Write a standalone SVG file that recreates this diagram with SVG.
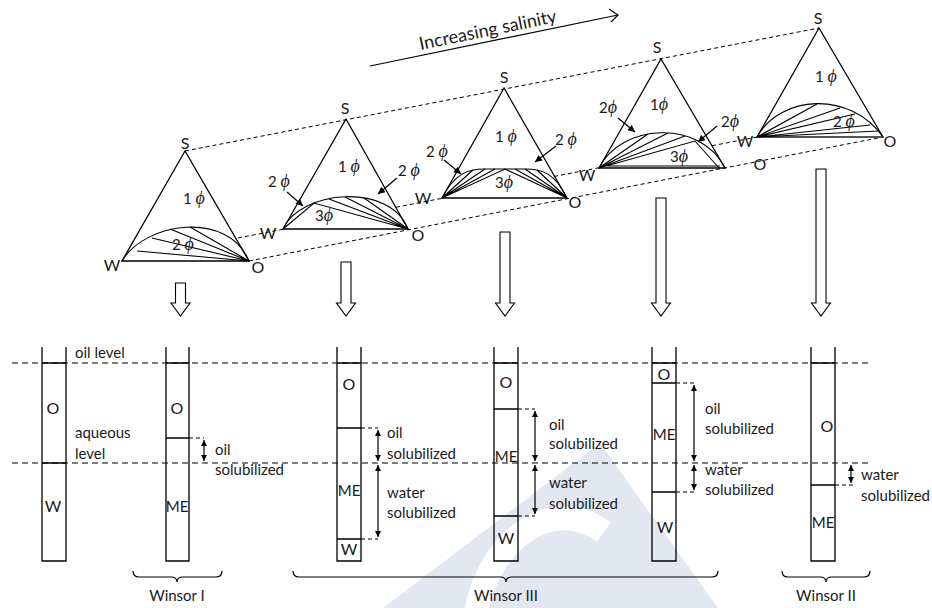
<svg xmlns="http://www.w3.org/2000/svg" width="932" height="608" viewBox="0 0 932 608">
<defs>
<style>
.ln{stroke:#000;stroke-width:1.2;fill:none}
.tri{fill:#fff;stroke:#000;stroke-width:1.3}
.dome{fill:none;stroke:#000;stroke-width:1.1}
.dt{stroke:#000;stroke-width:1;stroke-dasharray:4 3;fill:none}
.dl{stroke:#000;stroke-width:1.1;stroke-dasharray:6 4;fill:none}
.tube{fill:none;stroke:#000;stroke-width:1.3}
.hol{fill:#fff;stroke:#000;stroke-width:1.1}
.t{font-family:Lato,"Liberation Sans",sans-serif;font-size:15px;fill:#1a1a1a}
.v{font-size:16px}
.c{text-anchor:middle}
.phi{font-family:"Liberation Serif","DejaVu Serif",serif;font-style:italic;font-size:18px}
</style>
<marker id="ah" viewBox="0 0 10 10" refX="10" refY="5" markerUnits="userSpaceOnUse" markerWidth="7" markerHeight="6" orient="auto-start-reverse">
<path d="M0,0 L10,5 L0,10 z" fill="#000"/>
</marker>
<marker id="ap" viewBox="0 0 10 10" refX="10" refY="5" markerUnits="userSpaceOnUse" markerWidth="8" markerHeight="7" orient="auto">
<path d="M0,0 L10,5 L0,10 z" fill="#000"/>
</marker>
</defs>
<rect width="932" height="608" fill="#fff"/>

<g id="watermark">
<polygon points="383,608 600,443 718,608" fill="#e2e7f1"/>
<path d="M476,612 C488,545 548,492 604,532" fill="none" stroke="#fff" stroke-width="24"/>
</g>

<g id="salinity">
<line class="ln" x1="370" y1="66" x2="618" y2="15"/>
<polyline class="ln" points="609,9 618,15 611,22"/>
<text class="t" transform="translate(489,36) rotate(-11.6)" text-anchor="middle" style="font-size:18px">Increasing salinity</text>
</g>

<g id="connectors">
<line class="dt" x1="185" y1="151" x2="819" y2="28"/>
<line class="dt" x1="238" y1="238" x2="757" y2="137"/>
<line class="dt" x1="249" y1="261" x2="883" y2="137"/>
<line class="dl" x1="12" y1="363" x2="872" y2="363"/>
<line class="dl" x1="12" y1="463" x2="872" y2="463"/>
</g>

<g id="triangle1">
<polygon class="tri" points="185,151 122,261 249,261"/>
<path class="dome" d="M122,261 C145,222 228,210 249,261"/>
<path class="dome" d="M249,261 L137,251 M249,261 L152,238 M249,261 L170,229 M249,261 L190,227"/>
<text class="t v c" x="185" y="149">S</text>
<text class="t v c" x="112" y="271">W</text>
<text class="t v c" x="258" y="273">O</text>
<text class="t" x="183" y="204">1 <tspan class="phi">ϕ</tspan></text>
<text class="t" x="172" y="250">2 <tspan class="phi">ϕ</tspan></text>
</g>

<g id="triangle2">
<polygon class="tri" points="346,119 283,229 408,229"/>
<path class="dome" d="M283,229 C300,190 390,182 408,229"/>
<path class="dome" d="M283,229 L314,203 L408,229 M408,229 L329,199 M408,229 L345,197 M408,229 L364,198"/>
<text class="t v c" x="345" y="114">S</text>
<text class="t v c" x="268" y="239">W</text>
<text class="t v c" x="418" y="241">O</text>
<text class="t" x="338" y="172">1 <tspan class="phi">ϕ</tspan></text>
<text class="t" x="268" y="187">2 <tspan class="phi">ϕ</tspan></text>
<text class="t" x="398" y="176">2 <tspan class="phi">ϕ</tspan></text>
<text class="t" x="315" y="221">3<tspan class="phi">ϕ</tspan></text>
<line class="ln" x1="287" y1="192" x2="303" y2="206" marker-end="url(#ap)"/>
<line class="ln" x1="397" y1="178" x2="378" y2="194" marker-end="url(#ap)"/>
</g>

<g id="triangle3">
<polygon class="tri" points="504,88 442,198 567,198"/>
<path class="dome" d="M442,198 C455,173 468,169 485,169 L525,169 C542,169 555,173 567,198"/>
<path class="dome" d="M442,198 L505,169 L567,198 M442,198 L473,170 M442,198 L485,169 M442,198 L495,169 M567,198 L537,170 M567,198 L525,169 M567,198 L515,169"/>
<text class="t v c" x="504" y="83">S</text>
<text class="t v c" x="423" y="204">W</text>
<text class="t v c" x="575" y="208">O</text>
<text class="t" x="495" y="142">1 <tspan class="phi">ϕ</tspan></text>
<text class="t" x="426" y="157">2 <tspan class="phi">ϕ</tspan></text>
<text class="t" x="555" y="145">2 <tspan class="phi">ϕ</tspan></text>
<text class="t" x="495" y="188">3<tspan class="phi">ϕ</tspan></text>
<line class="ln" x1="444" y1="160" x2="461" y2="174" marker-end="url(#ap)"/>
<line class="ln" x1="556" y1="146" x2="535" y2="162" marker-end="url(#ap)"/>
</g>

<g id="triangle4">
<polygon class="tri" points="661,59 599,168 725,168"/>
<path class="dome" d="M599,168 C620,124 700,118 725,168"/>
<path class="dome" d="M599,168 L695,141 L719,168 M601,166 L720,166 M599,168 L648,134 M599,168 L668,133 M599,168 L685,136"/>
<text class="t v c" x="657" y="53">S</text>
<text class="t v c" x="587" y="181">W</text>
<text class="t v c" x="760" y="170">O</text>
<text class="t" x="650" y="110">1<tspan class="phi">ϕ</tspan></text>
<text class="t" x="599" y="113">2<tspan class="phi">ϕ</tspan></text>
<text class="t" x="721" y="127">2<tspan class="phi">ϕ</tspan></text>
<text class="t" x="670" y="162">3<tspan class="phi">ϕ</tspan></text>
<line class="ln" x1="618" y1="118" x2="635" y2="132" marker-end="url(#ap)"/>
<line class="ln" x1="717" y1="126" x2="698" y2="142" marker-end="url(#ap)"/>
</g>

<g id="triangle5">
<polygon class="tri" points="819,28 757,137 883,137"/>
<line x1="757" y1="137" x2="883" y2="137" stroke="#555" stroke-width="2.2"/>
<path class="dome" d="M757,137 C780,95 850,90 883,137"/>
<path class="dome" d="M757,137 L817,104 M757,137 L840,108 M757,137 L855,114 M757,137 L870,125 M757,137 L878,131"/>
<text class="t v c" x="818" y="24">S</text>
<text class="t v c" x="745" y="147">W</text>
<text class="t v c" x="890" y="147">O</text>
<text class="t" x="815" y="82">1 <tspan class="phi">ϕ</tspan></text>
<text class="t" x="833" y="127">2 <tspan class="phi">ϕ</tspan></text>
</g>

<g id="down-arrows">
<path class="hol" d="M175.5,283 L185.5,283 L185.5,303 L190,303 L180.5,316 L171,303 L175.5,303 Z"/>
<path class="hol" d="M341,262 L351,262 L351,303 L355.5,303 L346,316 L336.5,303 L341,303 Z"/>
<path class="hol" d="M500,232 L510,232 L510,303 L514.5,303 L505,316 L495.5,303 L500,303 Z"/>
<path class="hol" d="M656,198 L666,198 L666,303 L670.5,303 L661,316 L651.5,303 L656,303 Z"/>
<path class="hol" d="M816,169 L826,169 L826,303 L830.5,303 L821,316 L811.5,303 L816,303 Z"/>
</g>

<g id="tube1">
<path class="tube" d="M42,347 L42,561 L66,561 L66,347 M42,363 L66,363 M42,463 L66,463"/>
<text class="t v c" x="53" y="414">O</text>
<text class="t v c" x="53" y="512">W</text>
<text class="t" x="75" y="358">oil level</text>
<text class="t" x="75" y="438">aqueous</text>
<text class="t" x="75" y="459">level</text>
</g>

<g id="tube2">
<path class="tube" d="M166,347 L166,561 L189,561 L189,347 M166,363 L189,363 M166,438 L189,438"/>
<line class="dt" x1="189" y1="438" x2="204" y2="438"/>
<line class="ln" x1="204" y1="440" x2="204" y2="461" marker-start="url(#ah)" marker-end="url(#ah)"/>
<text class="t v c" x="177" y="414">O</text>
<text class="t c" x="177" y="512">ME</text>
<text class="t" x="215" y="455">oil</text>
<text class="t" x="215" y="475">solubilized</text>
</g>

<g id="tube3">
<path class="tube" d="M337,347 L337,561 L361,561 L361,347 M337,363 L361,363 M337,428 L361,428 M337,539 L361,539"/>
<line class="dt" x1="361" y1="428" x2="378" y2="428"/>
<line class="dt" x1="361" y1="539" x2="378" y2="539"/>
<line class="ln" x1="378" y1="430" x2="378" y2="461" marker-start="url(#ah)" marker-end="url(#ah)"/>
<line class="ln" x1="378" y1="465" x2="378" y2="537" marker-start="url(#ah)" marker-end="url(#ah)"/>
<text class="t v c" x="349" y="390">O</text>
<text class="t c" x="349" y="496">ME</text>
<text class="t v c" x="349" y="555">W</text>
<text class="t" x="387" y="438">oil</text>
<text class="t" x="387" y="459">solubilized</text>
<text class="t" x="387" y="498">water</text>
<text class="t" x="387" y="518">solubilized</text>
</g>

<g id="tube4">
<path class="tube" d="M494,347 L494,561 L518,561 L518,347 M494,363 L518,363 M494,409 L518,409 M494,516 L518,516"/>
<line class="dt" x1="518" y1="409" x2="535" y2="409"/>
<line class="dt" x1="518" y1="516" x2="535" y2="516"/>
<line class="ln" x1="535" y1="411" x2="535" y2="461" marker-start="url(#ah)" marker-end="url(#ah)"/>
<line class="ln" x1="535" y1="465" x2="535" y2="514" marker-start="url(#ah)" marker-end="url(#ah)"/>
<text class="t v c" x="506" y="388">O</text>
<text class="t c" x="506" y="462">ME</text>
<text class="t v c" x="506" y="544">W</text>
<text class="t" x="549" y="430">oil</text>
<text class="t" x="549" y="449">solubilized</text>
<text class="t" x="549" y="488">water</text>
<text class="t" x="549" y="509">solubilized</text>
</g>

<g id="tube5">
<path class="tube" d="M652,347 L652,561 L676,561 L676,347 M652,363 L676,363 M652,383 L676,383 M652,492 L676,492"/>
<line class="dt" x1="676" y1="383" x2="694" y2="383"/>
<line class="dt" x1="676" y1="492" x2="694" y2="492"/>
<line class="ln" x1="694" y1="385" x2="694" y2="461" marker-start="url(#ah)" marker-end="url(#ah)"/>
<line class="ln" x1="694" y1="465" x2="694" y2="490" marker-start="url(#ah)" marker-end="url(#ah)"/>
<text class="t v c" x="664" y="380">O</text>
<text class="t c" x="664" y="440">ME</text>
<text class="t v c" x="665" y="533">W</text>
<text class="t" x="705" y="414">oil</text>
<text class="t" x="705" y="434">solubilized</text>
<text class="t" x="705" y="475">water</text>
<text class="t" x="705" y="495">solubilized</text>
</g>

<g id="tube6">
<path class="tube" d="M811,347 L811,561 L835,561 L835,347 M811,363 L835,363 M811,485 L835,485"/>
<line class="dt" x1="835" y1="485" x2="853" y2="485"/>
<line class="ln" x1="851" y1="465" x2="851" y2="483" marker-start="url(#ah)" marker-end="url(#ah)"/>
<text class="t v c" x="827" y="432">O</text>
<text class="t c" x="823" y="528">ME</text>
<text class="t" x="861" y="480">water</text>
<text class="t" x="861" y="501">solubilized</text>
</g>

<g id="winsor1">
<path class="ln" d="M133,571 Q133,577 139,577 L171,577 Q177,577 177,582 Q177,577 183,577 L216,577 Q222,577 222,571"/>
<text class="t c" x="177" y="601">Winsor I</text>
</g>
<g id="winsor3">
<path class="ln" d="M293,571 Q293,577 299,577 L500,577 Q506,577 506,582 Q506,577 512,577 L712,577 Q718,577 718,571"/>
<text class="t c" x="506" y="601">Winsor III</text>
</g>
<g id="winsor2">
<path class="ln" d="M782,571 Q782,577 788,577 L820,577 Q826,577 826,582 Q826,577 832,577 L864,577 Q870,577 870,571"/>
<text class="t c" x="826" y="601">Winsor II</text>
</g>
</svg>
